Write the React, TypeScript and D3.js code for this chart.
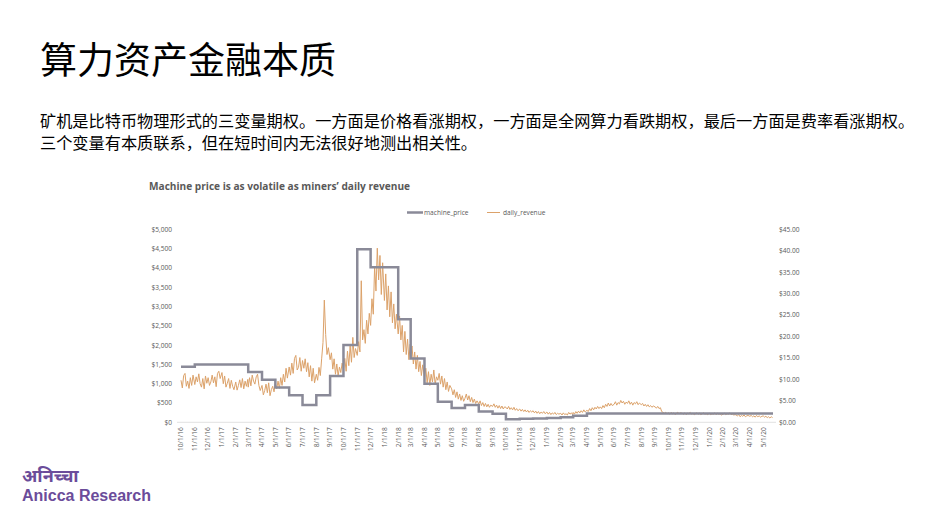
import React from "react";
import * as d3 from "d3";

// ---------- DATA ----------
const pageTitle = "算力资产金融本质";
const bodyLines = [
  "矿机是比特币物理形式的三变量期权。一方面是价格看涨期权，一方面是全网算力看跌期权，最后一方面是费率看涨期权。",
  "三个变量有本质联系，但在短时间内无法很好地测出相关性。",
];
const chartTitle = "Machine price is as volatile as miners’ daily revenue";
const seriesNames = ["machine_price", "daily_revenue"];

// machine price steps: [date, price in USD]
const priceDates = [
  "2016-10-01", "2016-11-01", "2017-03-01", "2017-04-01", "2017-05-01", "2017-06-01",
  "2017-07-01", "2017-08-01", "2017-09-01", "2017-10-01", "2017-11-01", "2017-12-01",
  "2018-02-01", "2018-03-01", "2018-04-01", "2018-05-01", "2018-06-01", "2018-07-01",
  "2018-08-01", "2018-09-01", "2018-10-01", "2018-11-01", "2018-12-01", "2019-01-01",
  "2019-02-01", "2019-03-01", "2019-04-01", "2020-05-23",
];
const priceValues = [
  1440, 1500, 1300, 1100, 900, 700,
  450, 700, 1200, 2000, 4480, 4020,
  2670, 1650, 1000, 530, 370, 450,
  280, 220, 80, 90, 100, 110,
  130, 170, 230, 230,
];

// daily revenue samples: first month, then 10 samples per month
const revenueFirstMonth = "2016-10";
const revenueSampleDays = [1, 4, 7, 10, 13, 16, 19, 22, 25, 28];
const revenueValues = [
  [9.8, 8.0, 10.9, 11.4, 8.4, 9.6, 7.9, 10.4, 8.6, 11.0],
  [8.8, 10.6, 9.4, 11.3, 9.0, 8.2, 10.2, 7.8, 10.8, 9.1],
  [10.4, 8.6, 9.4, 11.0, 9.2, 10.6, 8.3, 11.4, 11.9, 10.2],
  [11.6, 9.0, 10.8, 8.2, 9.1, 10.2, 7.9, 9.8, 8.4, 7.6],
  [9.4, 7.5, 8.6, 9.9, 8.1, 10.2, 7.8, 9.6, 8.4, 10.0],
  [8.2, 10.4, 8.5, 11.0, 9.6, 8.9, 10.6, 11.2, 8.6, 7.4],
  [8.6, 6.4, 7.4, 8.9, 6.9, 9.2, 6.2, 7.6, 8.4, 7.1],
  [9.0, 7.8, 9.6, 7.9, 10.4, 8.6, 11.2, 9.4, 12.6, 10.3],
  [12.9, 11.0, 13.8, 11.4, 14.9, 15.6, 12.2, 12.8, 15.1, 11.9],
  [14.4, 12.6, 14.8, 11.8, 13.9, 10.6, 13.2, 9.6, 12.6, 9.2],
  [11.2, 9.8, 12.8, 10.9, 14.8, 18.6, 28.5, 20.5, 15.8, 17.4],
  [14.6, 16.2, 12.4, 14.8, 11.2, 13.6, 10.8, 12.9, 11.6, 13.8],
  [12.4, 14.9, 11.9, 16.6, 13.2, 17.8, 14.0, 19.8, 15.1, 17.2],
  [15.6, 18.8, 16.4, 33.0, 19.2, 21.6, 18.4, 23.8, 20.6, 25.4],
  [22.6, 28.8, 25.2, 36.4, 30.6, 40.6, 33.2, 38.9, 29.8, 37.2],
  [28.4, 34.6, 26.2, 31.8, 24.6, 30.4, 23.2, 27.6, 21.8, 25.2],
  [20.6, 24.8, 19.2, 22.6, 16.4, 21.2, 15.8, 19.4, 14.6, 18.2],
  [15.2, 17.8, 13.6, 16.4, 12.4, 15.6, 11.8, 14.2, 10.9, 13.4],
  [10.4, 12.6, 9.2, 11.8, 8.6, 11.2, 9.4, 12.2, 8.8, 10.6],
  [9.8, 11.4, 8.9, 10.8, 8.2, 10.2, 7.6, 9.4, 7.2, 8.6],
  [7.8, 6.4, 7.6, 5.8, 7.1, 5.4, 6.6, 5.1, 6.2, 4.9],
  [5.6, 6.6, 5.2, 6.2, 4.8, 5.8, 4.6, 5.4, 4.4, 5.0],
  [4.3, 5.0, 3.9, 4.6, 3.7, 4.4, 3.6, 4.2, 3.5, 4.0],
  [3.7, 4.3, 3.5, 4.0, 3.3, 3.9, 3.2, 3.8, 3.1, 3.6],
  [3.5, 3.1, 3.7, 3.0, 3.4, 2.9, 3.5, 2.8, 3.2, 2.7],
  [3.1, 2.6, 3.0, 2.5, 2.9, 2.4, 2.8, 2.3, 2.7, 2.4],
  [2.7, 2.2, 2.6, 2.1, 2.5, 2.0, 2.4, 2.1, 2.5, 2.0],
  [2.4, 1.9, 2.3, 1.8, 2.2, 1.9, 2.3, 1.8, 2.1, 1.9],
  [2.1, 1.7, 2.2, 1.8, 2.0, 1.7, 2.3, 1.9, 2.2, 1.8],
  [2.3, 1.9, 2.5, 2.1, 2.6, 2.2, 2.7, 2.3, 2.9, 2.4],
  [2.8, 2.5, 3.2, 2.7, 3.4, 2.9, 3.5, 3.1, 3.7, 3.2],
  [3.6, 3.2, 3.9, 3.4, 4.2, 3.7, 4.5, 3.8, 4.4, 3.9],
  [4.2, 4.8, 4.0, 4.6, 4.3, 5.1, 4.5, 4.9, 4.2, 4.7],
  [4.4, 5.0, 4.2, 4.7, 4.0, 4.6, 4.3, 4.8, 4.1, 4.5],
  [4.1, 4.4, 3.8, 4.2, 3.7, 4.1, 3.6, 3.9, 3.5, 3.8],
  [3.6, 3.3, 3.7, 3.2, 3.4, 2.5, 2.3, 2.1, 2.3, 2.0],
  [2.2, 1.9, 2.3, 2.0, 2.2, 1.8, 2.1, 2.3, 2.0, 2.2],
  [2.1, 1.9, 2.2, 1.8, 2.1, 2.0, 2.3, 1.9, 2.1, 1.8],
  [2.0, 2.2, 1.9, 2.1, 1.8, 2.0, 2.2, 1.9, 2.0, 1.8],
  [2.1, 1.8, 2.0, 1.9, 2.2, 1.8, 2.1, 1.9, 2.0, 1.7],
  [1.9, 2.1, 1.8, 2.0, 1.9, 2.2, 1.8, 1.9, 1.7, 1.8],
  [1.7, 1.5, 1.8, 1.3, 1.6, 1.4, 1.7, 1.3, 1.5, 1.6],
  [1.4, 1.6, 1.3, 1.5, 1.2, 1.6, 1.3, 1.5, 1.2, 1.4],
  [1.5, 1.2, 1.4, 1.1, 1.3, 1.0, 1.3, 1.1],
];

const axisStart = "2016-10-01";
const axisEnd = "2020-05-23";
const leftTicks = [0, 500, 1000, 1500, 2000, 2500, 3000, 3500, 4000, 4500, 5000];
const rightTicks = [0, 5, 10, 15, 20, 25, 30, 35, 40, 45];
const logoHindi = "अनिच्चा";
const logoEnglish = "Anicca Research";

// ---------- HELPERS ----------
const parse = (s: string) => {
  const [y, m, d] = s.split("-").map(Number);
  return new Date(y, m - 1, d);
};

export default function App() {
  const W = 949, H = 516;
  const plotTop = 229.3, plotBottom = 422.3;

  const x = d3.scaleTime().domain([parse(axisStart), parse(axisEnd)]).range([181, 773]);
  const yL = d3.scaleLinear().domain([0, 5000]).range([plotBottom, plotTop]);
  const yR = d3.scaleLinear().domain([0, 45]).range([plotBottom, plotTop]);

  const priceData = priceDates.map((d, i) => ({ date: parse(d), v: priceValues[i] }));
  const [fy, fm] = revenueFirstMonth.split("-").map(Number);
  const revData: { date: Date; v: number }[] = [];
  revenueValues.forEach((month, mi) => {
    month.forEach((v, k) => {
      revData.push({ date: new Date(fy, fm - 1 + mi, revenueSampleDays[k]), v });
    });
  });

  const priceLine = d3
    .line<{ date: Date; v: number }>()
    .x((d) => x(d.date))
    .y((d) => yL(d.v))
    .curve(d3.curveStepAfter);
  const revLine = d3
    .line<{ date: Date; v: number }>()
    .x((d) => x(d.date))
    .y((d) => yR(d.v));

  const months = d3.timeMonth.range(parse(axisStart), parse(axisEnd));
  const fmtMonth = (d: Date) => `${d.getMonth() + 1}/1/${String(d.getFullYear()).slice(2)}`;
  const fmtL = (v: number) => "$" + d3.format(",")(v);
  const fmtR = (v: number) => "$" + d3.format(".2f")(v);

  const axisColor = "#595959";
  const priceColor = "#8a8a98";
  const revColor = "#dca26a";
  const cjk = "'Noto Sans CJK SC', 'Noto Sans', sans-serif";
  const sans = "'Open Sans', 'Noto Sans', sans-serif";

  return (
    <svg
      width={W}
      height={H}
      style={{ position: "absolute", left: 0, top: 0, background: "#fff" }}
    >
      <rect x={0} y={0} width={W} height={H} fill="#fff" />
      <text x={40} y={74} fontFamily={cjk} fontSize={37} fill="#000">
        {pageTitle}
      </text>
      {bodyLines.map((t, i) => (
        <text key={i} x={40} y={127 + i * 22} fontFamily={cjk} fontSize={16.2} fill="#000">
          {t}
        </text>
      ))}

      {/* chart title */}
      <text
        x={149}
        y={189.5}
        fontFamily={sans}
        fontWeight={700}
        fontSize={10.5}
        fill={axisColor}
        textLength={261}
        lengthAdjust="spacingAndGlyphs"
      >
        {chartTitle}
      </text>

      {/* legend */}
      <line x1={407} x2={423} y1={212.5} y2={212.5} stroke={priceColor} strokeWidth={2.5} />
      <text x={424} y={215} fontFamily={sans} fontSize={6.6} fill={axisColor}>
        {seriesNames[0]}
      </text>
      <line x1={487} x2={500} y1={212.5} y2={212.5} stroke={revColor} strokeWidth={1} />
      <text x={503} y={215} fontFamily={sans} fontSize={6.6} fill={axisColor}>
        {seriesNames[1]}
      </text>

      {/* axes */}
      <line x1={177} x2={776} y1={plotBottom} y2={plotBottom} stroke="#d9d9d9" strokeWidth={0.8} />
      {leftTicks.map((t) => (
        <text
          key={"l" + t}
          x={172}
          y={yL(t) + 2.4}
          textAnchor="end"
          fontFamily={sans}
          fontSize={6.6}
          fill={axisColor}
        >
          {fmtL(t)}
        </text>
      ))}
      {rightTicks.map((t) => (
        <text
          key={"r" + t}
          x={779}
          y={yR(t) + 2.4}
          textAnchor="start"
          fontFamily={sans}
          fontSize={6.6}
          fill={axisColor}
        >
          {fmtR(t)}
        </text>
      ))}
      {months.map((m, i) => (
        <text
          key={"m" + i}
          transform={`translate(${x(m) + 2.3},${plotBottom + 5}) rotate(-90)`}
          textAnchor="end"
          fontFamily={sans}
          fontSize={6.6}
          fill={axisColor}
        >
          {fmtMonth(m)}
        </text>
      ))}

      {/* series */}
      <path d={revLine(revData) || ""} fill="none" stroke={revColor} strokeWidth={1} strokeLinejoin="round" />
      <path d={priceLine(priceData) || ""} fill="none" stroke={priceColor} strokeWidth={2.5} />

      {/* logo */}
      <text x={22} y={482} fontFamily="'Noto Sans', 'DejaVu Sans', sans-serif" fontWeight={700} fontSize={18} fill="#6b4c9a">
        {logoHindi}
      </text>
      <text x={22} y={501} fontFamily="'Liberation Sans', Arial, sans-serif" fontWeight={700} fontSize={16} fill="#6b4c9a">
        {logoEnglish}
      </text>
    </svg>
  );
}
